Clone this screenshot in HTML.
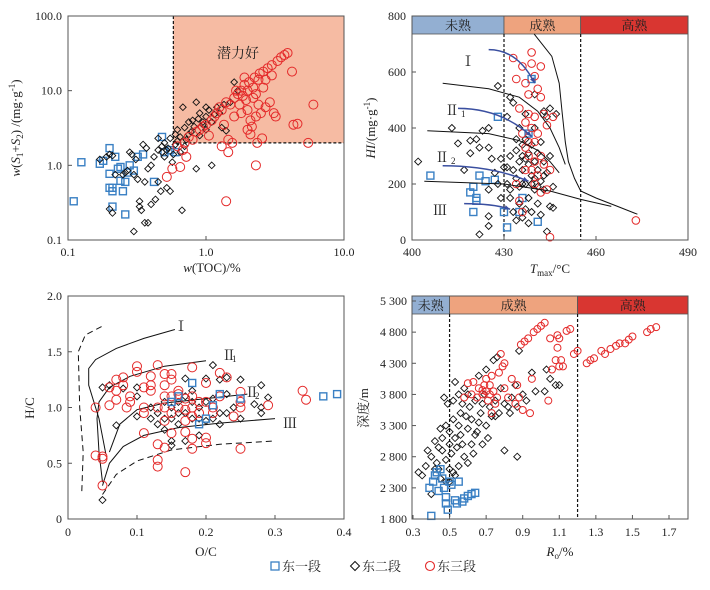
<!DOCTYPE html>
<html><head><meta charset="utf-8"><style>
body{margin:0;background:#fff}
svg text{font-family:"Liberation Serif","Noto Serif CJK SC",serif;fill:#222}
</style></head><body>
<svg id="c" width="710" height="585" viewBox="0 0 710 585" xmlns="http://www.w3.org/2000/svg"></svg>
<script>
// ---------- Panel 1 data: TOC (%) vs S1+S2 (mg/g) ----------
const p1Blue=[0.11,0.33,0.125,1.1,0.17,1.05,0.18,1.15,0.2,1.7,0.2,0.77,0.2,0.5,0.21,0.5,0.21,0.45,0.21,0.28,0.22,1.3,0.23,0.9,0.24,0.95,0.24,0.62,0.25,0.45,0.26,0.22,0.26,0.6,0.27,0.8,0.28,1.0,0.3,0.85,0.32,1.3,0.35,1.4,0.42,0.6,0.48,2.4,0.5,1.5,0.55,1.6,0.6,1.5];
const p1Black=[0.17,1.2,0.19,1.3,0.2,1.4,0.21,1.35,0.22,0.75,0.2,0.26,0.21,0.23,0.25,0.75,0.26,0.8,0.27,0.85,0.28,1.5,0.29,1.4,0.3,0.75,0.3,0.13,0.31,1.2,0.32,0.65,0.33,0.33,0.33,0.28,0.34,0.25,0.35,1.9,0.36,0.6,0.36,0.17,0.37,1.7,0.38,0.9,0.38,0.17,0.4,1.0,0.4,0.3,0.42,1.3,0.43,0.35,0.45,0.6,0.45,1.6,0.47,0.45,0.48,1.8,0.5,1.3,0.5,2.0,0.52,1.6,0.52,0.5,0.55,0.45,0.55,2.3,0.57,1.1,0.6,2.6,0.6,1.9,0.62,3.0,0.65,2.4,0.67,0.25,0.68,6.0,0.7,3.2,0.72,2.2,0.75,3.8,0.78,2.8,0.8,4.0,0.82,3.3,0.85,7.0,0.85,0.9,0.88,4.2,0.9,2.5,0.9,5.0,0.95,3.5,1.0,4.5,1.0,3.0,1.05,5.5,1.1,1.0,1.1,3.8,1.15,4.8,1.2,6.0,1.25,5.0,1.3,3.2,1.35,6.5,1.4,2.9,1.5,7.0,1.6,13,1.7,10,0.65,1.5,0.7,1.8,0.58,1.4,0.48,1.5,0.45,2.3,0.53,1.7,0.62,2.1,0.75,2.6,0.95,3.8,1.0,6.0];
const p1Red=[0.52,0.7,0.57,0.9,0.62,1.8,0.65,0.95,0.68,1.6,0.7,2.0,0.72,1.3,0.75,2.4,0.8,2.2,0.85,2.8,0.9,3.0,0.95,3.3,1.0,3.5,1.05,2.5,1.1,4.0,1.15,4.5,1.2,5.0,1.25,6.0,1.3,5.5,1.35,3.5,1.4,7.0,1.45,2.2,1.45,1.5,1.4,0.33,1.5,6.5,1.6,8.0,1.7,9.0,1.75,6.5,1.8,10,1.85,8.5,1.9,12,1.95,7.5,2.0,10,2.05,13,2.1,4.0,2.1,2.6,2.15,3.3,2.2,11,2.25,15,2.3,4.5,2.3,1.0,2.35,2.0,2.4,14,2.45,17,2.5,5.0,2.55,2.3,2.6,18,2.7,6.0,2.8,20,2.9,7.0,3.0,22,3.1,5.0,3.2,4.5,3.3,25,3.5,28,3.7,30,3.9,32,4.2,18,4.3,3.5,4.6,3.6,5.5,2.0,6.0,6.5,1.55,2.0,2.0,5.5,1.65,10,2.2,8,2.6,11,1.3,1.8,1.8,5,2.4,6.5,2.0,3.0,3.0,16,2.7,14,1.9,15,1.6,4.5,2.3,9];
const p1XTicks=["0.1","1.0","10.0"];
const p1YTicks=["0.1","1.0","10.0","100.0"];

// ---------- Panel 2 data: Tmax vs HI ----------
const p2Blue=[406,230,419,170,420,100,420,190,421,150,421,140,422,230,424,210,427,215,428,440,430,100,431,45,438,380,439,575,441,65,435,100,436,150];
const p2Black=[402,280,413,400,415,345,417,250,419,355,419,310,421,360,422,330,422,20,423,390,425,400,425,330,425,180,425,85,425,50,426,290,427,240,428,200,428,550,429,150,429,290,430,260,431,200,431,440,432,510,432,300,432,150,433,250,433,100,433,490,434,320,434,220,434,70,435,280,435,190,435,400,435,130,436,300,436,250,436,80,437,360,437,200,437,110,437,450,438,270,438,150,438,310,438,60,439,230,439,340,439,100,440,280,440,180,440,400,440,520,441,250,441,130,441,310,442,210,442,350,442,90,443,280,443,180,443,460,444,240,444,30,444,440,445,120,445,300,445,470,446,190,446,115,447,450,436,340,434,360,432,180,437,290,439,200,441,190,443,230,431,260,440,220,436,200];
const p2Red=[433,650,434,575,435,470,436,620,437,560,438,520,439,670,439,630,440,585,440,440,441,540,442,620,442,510,438,450,437,420,439,400,440,350,441,380,442,300,443,270,444,410,444,180,445,250,445,10,446,440,435,140,436,100,437,250,438,300,439,250,440,200,441,230,442,170,437,330,436,380,473,70,434,200,443,450,438,350,440,280];
const p2XTicks=[400,430,460,490];
const p2YTicks=[0,200,400,600,800];
const p2CurveI=[439.8,736,445.6,656,448,560,449,450,450,350,451,280,453,220,455,175,460,150,467,120,473.5,92];
const p2CurveII1=[410,560,425,540,435,510,441,460,445,400,448,330,450,270];
const p2CurveII2=[405,390,425,380,435,355,441,320,445,280,448,240];
const p2CurveIII=[404,210,430,200,445,175,455,145,465,120];
const p2Arrows=[425,680,440,560,415,470,439,370,410,265,438,210,417,130,432,110];

// ---------- Panel 3 data: O/C vs H/C ----------
const p3Red=[0.04,1.0,0.04,0.57,0.05,0.56,0.05,0.54,0.05,0.3,0.06,1.18,0.06,1.02,0.07,1.25,0.07,1.15,0.07,1.07,0.08,1.27,0.08,1.2,0.085,1.0,0.09,1.1,0.09,1.05,0.1,1.37,0.1,1.32,0.11,1.18,0.11,1.0,0.11,0.95,0.11,0.77,0.12,1.28,0.12,1.2,0.12,1.15,0.13,1.38,0.13,0.67,0.13,0.53,0.13,0.47,0.14,1.3,0.14,1.2,0.14,1.1,0.14,1.0,0.14,0.88,0.14,0.64,0.15,1.3,0.15,1.25,0.15,1.1,0.15,0.95,0.15,0.77,0.16,1.15,0.16,1.0,0.17,1.08,0.17,0.98,0.17,0.88,0.17,0.78,0.17,0.42,0.18,1.36,0.18,1.1,0.18,1.0,0.18,0.72,0.18,0.63,0.19,1.05,0.19,0.95,0.2,1.22,0.2,0.73,0.2,0.68,0.21,1.0,0.21,0.95,0.22,1.31,0.22,1.1,0.23,1.27,0.24,0.92,0.25,1.14,0.25,1.05,0.25,1.0,0.25,0.63,0.29,1.02,0.34,1.15,0.345,1.07,0.16,1.12,0.18,0.92,0.13,1.0,0.2,1.05];
const p3Black=[0.05,0.17,0.05,1.18,0.06,1.2,0.07,0.84,0.08,1.17,0.1,1.18,0.1,1.1,0.1,0.92,0.12,1.0,0.12,0.9,0.13,0.95,0.13,0.85,0.14,0.8,0.14,1.05,0.15,0.7,0.15,0.66,0.15,0.9,0.16,0.85,0.16,1.05,0.17,1.26,0.17,0.95,0.17,0.7,0.18,1.15,0.18,0.9,0.19,0.75,0.19,1.0,0.2,1.26,0.2,0.88,0.2,1.05,0.21,1.38,0.21,0.9,0.22,0.85,0.22,1.25,0.23,1.27,0.23,0.95,0.23,1.12,0.24,1.0,0.25,1.25,0.25,0.9,0.27,1.03,0.28,1.2,0.28,1.0,0.28,0.95,0.29,1.09,0.16,0.95,0.18,1.05,0.19,0.9,0.21,1.08,0.15,1.0,0.14,0.9,0.17,1.1,0.22,0.95];
const p3Blue=[0.18,1.22,0.15,1.05,0.19,0.85,0.2,0.9,0.22,1.12,0.25,1.08,0.37,1.1,0.39,1.12,0.16,1.1,0.21,1.02];
const p3XTicks=[0,0.1,0.2,0.3,0.4];
const p3YTicks=[0,0.5,1.0,1.5,2.0];
const p3CurveI=[0.055,0.58,0.045,0.9,0.03,1.2,0.03,1.35,0.04,1.43,0.07,1.53,0.11,1.62,0.155,1.7];
const p3CurveII1=[0.05,0.33,0.045,0.6,0.042,0.9,0.045,1.05,0.06,1.18,0.09,1.28,0.14,1.37,0.2,1.42];
const p3CurveII2=[0.06,0.6,0.075,0.85,0.1,0.98,0.14,1.04,0.2,1.08,0.26,1.12];
const p3CurveIII=[0.05,0.3,0.06,0.5,0.08,0.65,0.11,0.75,0.16,0.82,0.22,0.86,0.3,0.9];
const p3DashLeft=[0.02,0.25,0.022,0.6,0.017,1.0,0.015,1.5,0.025,1.65,0.05,1.73];
const p3DashBottom=[0.05,0.22,0.07,0.4,0.1,0.52,0.15,0.62,0.22,0.67,0.3,0.7];

// ---------- Panel 4 data: Ro vs depth ----------
const p4Blue=[0.4,1850,0.39,2300,0.41,2400,0.42,2500,0.44,2250,0.46,2450,0.47,2300,0.48,2150,0.48,2050,0.49,1950,0.5,2400,0.51,2350,0.53,2100,0.54,2050,0.55,2400,0.57,2080,0.58,2130,0.6,2170,0.62,2200,0.64,2220,0.43,2550,0.45,2600];
const p4Black=[0.33,2550,0.35,2500,0.37,2650,0.38,2900,0.4,2800,0.4,2200,0.42,3050,0.43,2700,0.44,2600,0.45,3250,0.45,2450,0.46,3100,0.46,2900,0.47,3750,0.48,3300,0.48,2750,0.49,3650,0.5,3200,0.5,2600,0.5,3000,0.51,2850,0.52,3400,0.52,2550,0.53,4000,0.53,3100,0.54,2950,0.55,3800,0.55,3300,0.55,2650,0.56,3500,0.57,3000,0.58,2800,0.58,3900,0.6,3250,0.6,2700,0.61,3600,0.62,3400,0.62,3000,0.63,2850,0.64,3700,0.65,3200,0.66,4100,0.67,3500,0.68,3000,0.69,3800,0.7,3300,0.7,4200,0.71,3100,0.72,3600,0.73,3450,0.74,4350,0.75,3700,0.76,4400,0.77,3500,0.78,3900,0.8,3650,0.8,2900,0.82,3600,0.84,3750,0.86,3950,0.87,3600,0.87,2800,0.88,4500,0.9,3800,0.92,3700,0.95,4150,0.97,3850,1.02,3850,1.03,4200,1.05,4050,1.08,3950,1.1,3950,0.56,3150,0.59,3450,0.64,3150,0.66,3350,0.5,2400,0.53,2500,0.48,2400,0.57,3650,0.6,3800,0.52,3700,0.44,2950,0.42,2600,0.68,3650,0.75,3450,0.83,3500];
const p4Red=[0.58,3750,0.6,3980,0.62,3800,0.63,4000,0.65,3750,0.66,3900,0.68,3800,0.69,3950,0.7,4050,0.7,3850,0.71,3700,0.72,3950,0.73,4100,0.73,3500,0.74,3850,0.75,3650,0.76,3750,0.77,4150,0.78,4450,0.79,4250,0.8,4300,0.8,3900,0.82,3750,0.84,4050,0.86,3650,0.87,3950,0.88,3750,0.89,4600,0.9,3550,0.91,4650,0.93,4700,0.94,3500,0.95,4050,0.96,4800,0.98,4850,1.0,4900,1.02,4950,1.04,3700,1.05,4700,1.06,4200,1.08,4350,1.09,4750,1.09,4550,1.1,4700,1.1,4250,1.11,4350,1.12,4250,1.14,4820,1.16,4850,1.18,4450,1.2,4500,1.25,4300,1.27,4350,1.29,4380,1.33,4500,1.35,4450,1.38,4530,1.41,4580,1.43,4620,1.46,4620,1.48,4680,1.5,4730,1.58,4800,1.6,4850,1.63,4880,0.68,3870,0.72,3800];
const p4XTicks=[0.3,0.5,0.7,0.9,1.1,1.3,1.5,1.7];
const p4YTicks=[1800,2300,2800,3300,3800,4300,4800,5300];

const NS="http://www.w3.org/2000/svg";
const svg=document.getElementById('c');
function el(tag,attrs,parent,text){const e=document.createElementNS(NS,tag);for(const k in attrs)e.setAttribute(k,attrs[k]);if(text!==undefined)e.textContent=text;(parent||svg).appendChild(e);return e;}
const BLUE="#3a80c4",BLACK="#111",RED="#e42a2a";
function linAxis(d0,d1,r0,r1){return v=>r0+(v-d0)/(d1-d0)*(r1-r0);}
function logAxis(d0,d1,r0,r1){return v=>r0+(Math.log10(v)-Math.log10(d0))/(Math.log10(d1)-Math.log10(d0))*(r1-r0);}

function scatter(g,arr,sx,sy,kind,sz){
  for(let i=0;i<arr.length;i+=2){
    const x=sx(arr[i]),y=sy(arr[i+1]);let m;
    if(kind==='sq'){m=el('rect',{x:x-sz,y:y-sz,width:2*sz,height:2*sz,fill:'none',stroke:BLUE,'stroke-width':1.4},g);}
    else if(kind==='dia'){m=el('path',{d:`M${x} ${y-sz}L${x+sz} ${y}L${x} ${y+sz}L${x-sz} ${y}Z`,fill:'none',stroke:BLACK,'stroke-width':0.9},g);}
    else{m=el('circle',{cx:x,cy:y,r:sz,fill:'none',stroke:RED,'stroke-width':1},g);}
    
    
  }
}
function curve(g,arr,sx,sy,attrs,name){
  let d='';for(let i=0;i<arr.length;i+=2){d+=(i?'L':'M')+sx(arr[i]).toFixed(1)+' '+sy(arr[i+1]).toFixed(1);}
  const p=el('path',Object.assign({d:d,fill:'none'},attrs),g);
  
  
  return p;
}
function frame(g,x0,y0,x1,y1){const r=el('rect',{x:x0,y:y0,width:x1-x0,height:y1-y0,fill:'none',stroke:'#555','stroke-width':1},g);}

// ================= Panel 1 =================
(function(){
  const g=el('g',{});
  const sx=logAxis(0.1,10,68,344),sy=logAxis(0.1,100,240,16);
  const sh=el('rect',{x:sx(0.58),y:16,width:344-sx(0.58),height:sy(2)-16,fill:'#f6bba3'},g);
  
  el('line',{x1:sx(0.58),y1:16,x2:sx(0.58),y2:sy(2),stroke:'#111','stroke-dasharray':'3,2','stroke-width':1.2},g);
  el('line',{x1:sx(0.58),y1:sy(2),x2:344,y2:sy(2),stroke:'#111','stroke-dasharray':'3,2','stroke-width':1.2},g);
  const zl=el('text',{x:238,y:58,'font-size':14,'text-anchor':'middle'},g,'潜力好');
  scatter(g,p1Blue,sx,sy,'sq',3.5);
  scatter(g,p1Black,sx,sy,'dia',3.3);
  scatter(g,p1Red,sx,sy,'c',4.5);
  frame(g,68,16,344,240);
  p1XTicks.forEach(t=>{const x=sx(+t);el('line',{x1:x,y1:240,x2:x,y2:236,stroke:'#555'},g);el('text',{x:x,y:256,'font-size':12,'text-anchor':'middle'},g,t);});
  p1YTicks.forEach(t=>{const y=sy(+t);el('line',{x1:68,y1:y,x2:72,y2:y,stroke:'#555'},g);el('text',{x:62,y:y+4,'font-size':12,'text-anchor':'end'},g,t);});
  const xl=el('text',{x:212,y:272,'font-size':13,'text-anchor':'middle'},g);xl.innerHTML='<tspan font-style="italic">w</tspan>(TOC)/%';
  
  const yl=el('text',{transform:'translate(20,128) rotate(-90)','font-size':13,'text-anchor':'middle'},g);
  yl.innerHTML='<tspan font-style="italic">w</tspan>(<tspan font-style="italic">S</tspan><tspan font-size="9" dy="3">1</tspan><tspan dy="-3">+</tspan><tspan font-style="italic">S</tspan><tspan font-size="9" dy="3">2</tspan><tspan dy="-3">) /(mg·g</tspan><tspan font-size="9" dy="-5">-1</tspan><tspan dy="5">)</tspan>';
  
})();

// ================= Panel 2 =================
(function(){
  const g=el('g',{});
  const sx=linAxis(400,490,412,688),sy=linAxis(0,800,240,16);
  const bands=[[400,430,'#93afd2','未熟','band-immature'],[430,455,'#eea37e','成熟','band-mature'],[455,490,'#d93631','高熟','band-highly-mature']];
  bands.forEach(b=>{const r=el('rect',{x:sx(b[0]),y:16,width:sx(b[1])-sx(b[0]),height:18,fill:b[2],stroke:'#555','stroke-width':0.8},g);
    el('text',{x:(sx(b[0])+sx(b[1]))/2,y:30,'font-size':13,'text-anchor':'middle'},g,b[3]);});
  [430,455].forEach(v=>el('line',{x1:sx(v),y1:34,x2:sx(v),y2:240,stroke:'#111','stroke-dasharray':'3,2','stroke-width':1.2},g));
  scatter(g,p2Blue,sx,sy,'sq',3.5);
  scatter(g,p2Black,sx,sy,'dia',3.5);
  scatter(g,p2Red,sx,sy,'c',3.8);
  const ca={stroke:'#111','stroke-width':1};
  curve(g,p2CurveI,sx,sy,ca,'type-I-curve');curve(g,p2CurveII1,sx,sy,ca,'type-II1-curve');curve(g,p2CurveII2,sx,sy,ca,'type-II2-curve');curve(g,p2CurveIII,sx,sy,ca,'type-III-curve');
  for(let i=0;i<p2Arrows.length;i+=4){
    const x1=sx(p2Arrows[i]),y1=sy(p2Arrows[i+1]),x2=sx(p2Arrows[i+2]),y2=sy(p2Arrows[i+3]);
    const a=el('path',{d:`M${x1} ${y1}Q${(x1+x2)/2+6} ${y1} ${x2} ${y2}`,fill:'none',stroke:'#3a4fa0','stroke-width':1.5},g);
    
    const ang=Math.atan2(y2-(y1),x2-((x1+x2)/2+6));
    const h=el('path',{d:`M${x2} ${y2}L${x2-6*Math.cos(ang-0.4)} ${y2-6*Math.sin(ang-0.4)}L${x2-6*Math.cos(ang+0.4)} ${y2-6*Math.sin(ang+0.4)}Z`,fill:'#3a4fa0'},g);
    
  }
  const lb=[[468,66,'Ⅰ'],[452,115,'Ⅱ'],[442,162,'Ⅱ'],[440,215,'Ⅲ']];
  lb.forEach(l=>el('text',{x:l[0],y:l[1],'font-size':14,'text-anchor':'middle'},g,l[2]));
  el('text',{x:461,y:117,'font-size':9},g,'1');el('text',{x:451,y:164,'font-size':9},g,'2');
  frame(g,412,16,688,240);
  p2XTicks.forEach(t=>{const x=sx(t);el('line',{x1:x,y1:240,x2:x,y2:236,stroke:'#555'},g);el('text',{x:x,y:256,'font-size':12,'text-anchor':'middle'},g,String(t));});
  p2YTicks.forEach(t=>{const y=sy(t);el('line',{x1:412,y1:y,x2:416,y2:y,stroke:'#555'},g);el('text',{x:406,y:y+4,'font-size':12,'text-anchor':'end'},g,String(t));});
  const xl=el('text',{x:550,y:273,'font-size':13,'text-anchor':'middle'},g);xl.innerHTML='<tspan font-style="italic">T</tspan><tspan font-size="9" dy="3">max</tspan><tspan dy="-3">/°C</tspan>';
  
  const yl=el('text',{transform:'translate(375,128) rotate(-90)','font-size':13,'text-anchor':'middle'},g);
  yl.innerHTML='<tspan font-style="italic">HI</tspan>/(mg·g<tspan font-size="9" dy="-5">-1</tspan><tspan dy="5">)</tspan>';
  
})();

// ================= Panel 3 =================
(function(){
  const g=el('g',{});
  const sx=linAxis(0,0.4,68,344),sy=linAxis(0,2,519,296);
  const ca={stroke:'#111','stroke-width':1};const da={stroke:'#111','stroke-width':1,'stroke-dasharray':'6,4'};
  curve(g,p3DashLeft,sx,sy,da,'boundary-left-dashed');curve(g,p3DashBottom,sx,sy,da,'boundary-bottom-dashed');
  curve(g,p3CurveI,sx,sy,ca,'type-I-curve');curve(g,p3CurveII1,sx,sy,ca,'type-II1-curve');curve(g,p3CurveII2,sx,sy,ca,'type-II2-curve');curve(g,p3CurveIII,sx,sy,ca,'type-III-curve');
  scatter(g,p3Black,sx,sy,'dia',3.5);
  scatter(g,p3Red,sx,sy,'c',4.5);
  scatter(g,p3Blue,sx,sy,'sq',3.5);
  el('text',{x:181,y:331,'font-size':14,'text-anchor':'middle'},g,'Ⅰ');
  el('text',{x:222,y:360,'font-size':14},g,'Ⅱ');el('text',{x:232,y:362,'font-size':9},g,'1');
  el('text',{x:245,y:397,'font-size':14},g,'Ⅱ');el('text',{x:255,y:399,'font-size':9},g,'2');
  el('text',{x:283,y:428,'font-size':14},g,'Ⅲ');
  frame(g,68,296,344,519);
  p3XTicks.forEach(t=>{const x=sx(t);el('line',{x1:x,y1:519,x2:x,y2:515,stroke:'#555'},g);el('text',{x:x,y:536,'font-size':12,'text-anchor':'middle'},g,String(t));});
  p3YTicks.forEach(t=>{const y=sy(t);el('line',{x1:68,y1:y,x2:72,y2:y,stroke:'#555'},g);el('text',{x:62,y:y+4,'font-size':12,'text-anchor':'end'},g,t===0?'0':t.toFixed(1));});
  const xl=el('text',{x:206,y:556,'font-size':13,'text-anchor':'middle'},g,'O/C');
  const yl=el('text',{transform:'translate(34,408) rotate(-90)','font-size':13,'text-anchor':'middle'},g,'H/C');
})();

// ================= Panel 4 =================
(function(){
  const g=el('g',{});
  const sx=linAxis(0.3,1.7,413,669),sy=linAxis(1800,5300,519,301);
  const bands=[[412,sx(0.5),'#93afd2','未熟','band-immature'],[sx(0.5),sx(1.2),'#eea37e','成熟','band-mature'],[sx(1.2),688,'#d93631','高熟','band-highly-mature']];
  bands.forEach(b=>{const r=el('rect',{x:b[0],y:296,width:b[1]-b[0],height:18,fill:b[2],stroke:'#555','stroke-width':0.8},g);
    el('text',{x:(b[0]+b[1])/2,y:310,'font-size':13,'text-anchor':'middle'},g,b[3]);});
  [0.5,1.2].forEach(v=>el('line',{x1:sx(v),y1:314,x2:sx(v),y2:519,stroke:'#111','stroke-dasharray':'3,2','stroke-width':1.2},g));
  scatter(g,p4Black,sx,sy,'dia',3.5);
  scatter(g,p4Blue,sx,sy,'sq',3.5);
  scatter(g,p4Red,sx,sy,'c',3.5);
  frame(g,412,296,688,519);
  p4XTicks.forEach(t=>{const x=sx(t);el('line',{x1:x,y1:519,x2:x,y2:515,stroke:'#555'},g);el('text',{x:x,y:536,'font-size':12,'text-anchor':'middle'},g,t.toFixed(1));});
  p4YTicks.forEach(t=>{const y=sy(t);el('line',{x1:412,y1:y,x2:416,y2:y,stroke:'#555'},g);el('text',{x:407,y:y+4,'font-size':12,'text-anchor':'end'},g,String(t).replace(/^(\d)(\d{3})$/,'$1 $2'));});
  const xl=el('text',{x:560,y:556,'font-size':13,'text-anchor':'middle'},g);xl.innerHTML='<tspan font-style="italic">R</tspan><tspan font-size="9" dy="3">o</tspan><tspan dy="-3">/%</tspan>';
  
  const yl=el('text',{transform:'translate(368,408) rotate(-90)','font-size':13,'text-anchor':'middle'},g,'深度/m');
})();

// ================= Legend =================
(function(){
  const g=el('g',{});
  const items=[[270,'sq','东一段'],[350,'dia','东二段'],[425,'c','东三段']];
  items.forEach(it=>{
    const lg=el('g',{},g);
    const x=it[0]+5,y=566;
    if(it[1]==='sq')el('rect',{x:x-4,y:y-4,width:8,height:8,fill:'none',stroke:BLUE,'stroke-width':1.3},lg);
    else if(it[1]==='dia')el('path',{d:`M${x} ${y-4.5}L${x+4.5} ${y}L${x} ${y+4.5}L${x-4.5} ${y}Z`,fill:'none',stroke:BLACK,'stroke-width':1},lg);
    else el('circle',{cx:x,cy:y,r:4.5,fill:'none',stroke:RED,'stroke-width':1.1},lg);
    el('text',{x:x+7,y:y+5,'font-size':13},lg,it[2]);
  });
})();
</script>
</body></html>
